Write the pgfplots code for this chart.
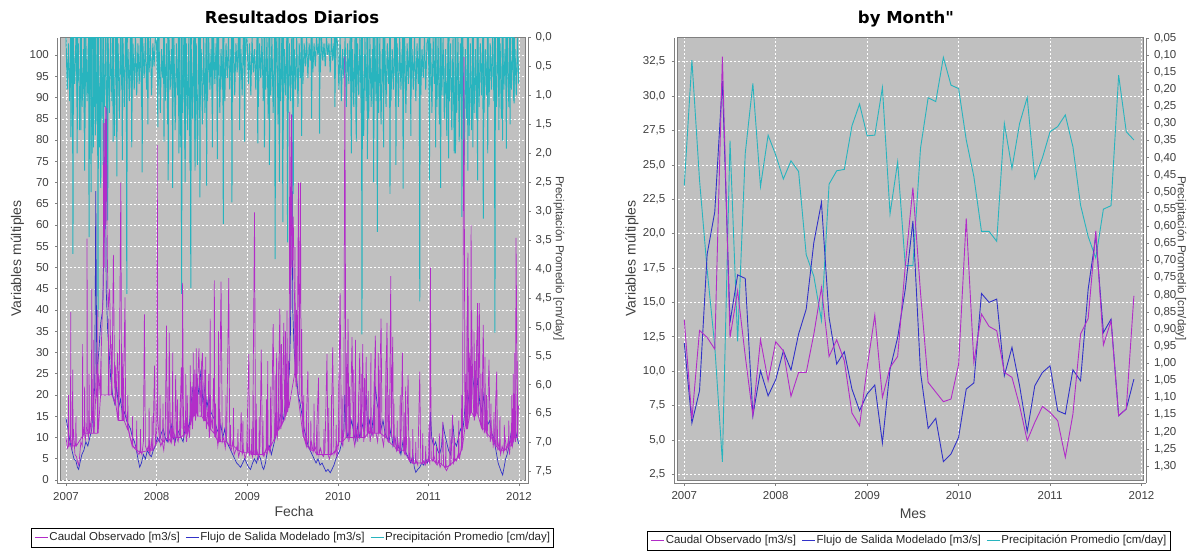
\documentclass[border=0pt]{standalone}
\usepackage{fontspec}
\setmainfont{Liberation Sans}
\newfontfamily\titlefont{DejaVu Sans}
\usepackage{pgfplots}
\pgfplotsset{compat=1.18}
\definecolor{plotbg}{RGB}{192,192,192}
\definecolor{axgray}{RGB}{128,128,128}
\definecolor{cmag}{RGB}{178,45,200}
\definecolor{cblue}{RGB}{50,50,200}
\definecolor{ccyan}{RGB}{40,180,190}
\newcommand{\tickfont}{\fontsize{11.5}{13}\selectfont}
\newcommand{\labfont}{\fontsize{14}{16}\selectfont}
\newcommand{\rlabfont}{\fontsize{11.5}{13}\selectfont}
\newcommand{\legfont}{\fontsize{11.5}{13}\selectfont}
\newcommand{\ttlfont}{\titlefont\fontsize{16.5}{19}\selectfont\bfseries}
\newcommand{\lgline}[1]{\textcolor{#1}{\rule[3.5pt]{13pt}{0.9pt}}\hspace{1.5pt}}
\newcommand{\legtext}{\lgline{cmag}Caudal Observado [m3/s]\hspace{6pt}\lgline{cblue}Flujo de Salida Modelado [m3/s]\hspace{6pt}\lgline{ccyan}Precipitación Promedio [cm/day]}
\pgfplotsset{
  common/.style={
    scale only axis,
    /pgf/number format/assume math mode=true,
    tick label style={font=\tickfont, text=black!75},
    tick align=outside,
    major tick length=2.5pt,
    tick style={draw=axgray, line width=0.6pt},
    axis line style={draw=axgray, line width=0.8pt},
    every outer x axis line/.append style={-},
    every outer y axis line/.append style={-},
    scaled ticks=false,
  },
  gridax/.style={common,
    axis x line*=bottom, axis y line*=left,
    grid=major,
    major grid style={draw=white, line width=0.5pt, dash pattern=on 2pt off 2pt},
    yticklabel style={inner sep=0pt, xshift=-6pt},
    xticklabel style={inner sep=0pt, yshift=-6pt},
  },
  rightax/.style={common,
    axis x line=none, xtick=\empty, axis y line*=right, y dir=reverse,
    yticklabel style={inner sep=0pt, xshift=5pt},
  },
  flowax/.style={scale only axis, hide axis},
  Lbox/.style={at={(57.5pt,-483.5pt)}, anchor=south west, width=470.5pt, height=446pt, xmin=-34.3, xmax=1862.3},
  Rbox/.style={at={(674pt,-483pt)}, anchor=south west, width=472.3pt, height=445.3pt, xmin=-1.35, xmax=60.63},
}
\begin{document}
\begin{tikzpicture}
\path[use as bounding box] (0pt,0pt) rectangle (1192pt,-550pt);
\filldraw[fill=plotbg, draw=axgray, line width=0.5pt] (60.5pt,-37.5pt) rectangle (525pt,-480.5pt);
\filldraw[fill=plotbg, draw=axgray, line width=0.5pt] (677pt,-37.7pt) rectangle (1143.3pt,-480pt);

% ================= LEFT PANEL =================
\begin{axis}[gridax, Lbox, ymin=-0.82, ymax=104.12,
  xtick={0,365,731,1096,1461,1826}, xticklabels={2007,2008,2009,2010,2011,2012},
  ytick={0,5,...,100}]
\addplot[draw=none, forget plot] coordinates {(0,0)};
\end{axis}

\begin{axis}[rightax, Lbox, ymin=0, ymax=7.706,
  ytick={0,0.5,1,1.5,2,2.5,3,3.5,4,4.5,5,5.5,6,6.5,7,7.5},
  y tick label style={/pgf/number format/fixed, /pgf/number format/fixed zerofill, /pgf/number format/precision=1, /pgf/number format/use comma}]
\addplot[ccyan, line width=0.95pt] table[row sep=\\, x expr=\coordindex*5, y=p] {p\\
0\\0.9\\0.1\\1.1\\0\\1.3\\0.2\\0.8\\0\\1.0\\0.1\\1.6\\0\\1.2\\0.2\\1.8\\0\\1.1\\0.1\\1.4\\0\\2.0\\0.2\\1.2\\0\\1.5\\0.1\\1.9\\0\\1.4\\0.2\\1.2\\0\\1.6\\0.1\\1.3\\0\\1.1\\0.2\\1.7\\0\\1.0\\0.1\\1.4\\0\\0.9\\0.1\\1.2\\0\\0.8\\0.2\\1.1\\0\\1.3\\0.1\\0.9\\0\\1.0\\0.1\\0.8\\0\\1.2\\0.1\\0.7\\0\\0.9\\0.2\\0.6\\0\\1.0\\0.1\\0.5\\0\\
0.1\\1.0\\0\\1.3\\0.2\\0.7\\0\\1.1\\0.1\\1.5\\0\\0.9\\0.2\\1.2\\0\\1.6\\0.1\\1.0\\0\\1.9\\0.2\\1.3\\0\\2.1\\0.1\\1.6\\0\\2.3\\0.2\\1.4\\0\\1.8\\0.1\\2.2\\0\\1.2\\0.2\\1.5\\0\\1.3\\0.1\\1.1\\0\\0.9\\0.2\\1.2\\0\\0.8\\0.1\\1.0\\0\\1.3\\0.2\\0.9\\0\\1.1\\0.1\\0.7\\0\\0.9\\0.2\\0.8\\0\\1.0\\0.1\\0.6\\0\\0.8\\0.2\\1.0\\0\\0.7\\0.1\\
0\\0.8\\0.1\\1.0\\0\\0.6\\0.2\\0.9\\0\\1.2\\0.1\\0.7\\0\\1.1\\0.2\\0.9\\0\\1.4\\0.1\\1.0\\0\\1.3\\0.2\\0.6\\0\\1.5\\0.1\\1.1\\0\\1.6\\0.2\\1.0\\0\\1.3\\0.1\\1.1\\0\\1.4\\0.2\\0.9\\0\\1.2\\0.1\\0.7\\0\\0.8\\0.1\\0.5\\0\\0.7\\0.1\\0.4\\0\\0.6\\0.1\\0.5\\0\\0.3\\0.1\\0.6\\0\\0.4\\0.1\\0.5\\0\\0.3\\0.1\\0.6\\0\\0.4\\0.1\\0.7\\0\\
0.1\\0.9\\0\\1.1\\0.2\\0.7\\0\\1.2\\0.1\\0.8\\0\\1.4\\0.2\\1.2\\0\\1.5\\0.1\\1.0\\0\\1.3\\0.2\\1.7\\0\\1.1\\0.1\\1.4\\0\\1.2\\0.2\\1.6\\0\\1.1\\0.1\\1.3\\0\\1.5\\0.2\\1.0\\0\\1.2\\0.1\\0.8\\0\\1.1\\0.2\\0.9\\0\\1.0\\0.1\\1.2\\0\\0.9\\0.2\\1.1\\0\\1.3\\0.1\\0.8\\0\\1.0\\0.2\\0.9\\0\\1.1\\0.1\\0.8\\0\\1.0\\0.2\\0.7\\0\\0.9\\0.1\\
0\\1.1\\0.1\\1.3\\0\\0.8\\0.2\\1.2\\0\\1.5\\0.1\\1.0\\0\\1.4\\0.2\\1.7\\0\\1.1\\0.1\\1.6\\0\\2.0\\0.2\\1.3\\0\\1.8\\0.1\\1.5\\0\\2.2\\0.2\\1.4\\0\\1.7\\0.1\\1.6\\0\\1.3\\0.2\\1.4\\0\\1.2\\0.1\\1.0\\0\\1.3\\0.2\\1.0\\0\\1.2\\0.1\\0.9\\0\\1.1\\0.2\\1.2\\0\\1.0\\0.1\\1.4\\0\\0.9\\0.2\\1.1\\0\\1.2\\0.1\\0.9\\0\\1.1\\0.2\\1.0\\0\\0.8\\
};
\addplot[ccyan, line width=0.95pt] coordinates {(18,0)(20,1.72)(22,0)(26,0)(28,3.74)(30,0)(43,0)(45,2.0)(47,0)(58,0)(60,1.6)(62,0)(73,0)(75,2.3)(77,0)(91,0)(93,3.45)(95,0)(99,0)(101,2.67)(103,0)(108,0)(110,1.9)(112,0)(116,0)(118,1.69)(120,0)(127,0)(129,4.83)(131,0)(138,0)(140,2.6)(142,0)(148,0)(150,2.2)(152,0)(166,0)(168,3.16)(170,0)(188,0)(190,1.8)(192,0)(203,0)(205,2.4)(207,0)(225,0)(227,2.12)(229,0)(243,0)(245,4.43)(247,0)(263,0)(265,1.9)(267,0)(305,0)(307,2.33)(309,0)(328,0)(330,1.5)(332,0)(368,0)(370,1.55)(372,0)(393,0)(395,1.8)(397,0)(410,0)(412,2.47)(414,0)(428,0)(430,2.6)(432,0)(453,0)(455,2.0)(457,0)(464,0)(466,4.43)(468,0)(478,0)(480,2.5)(482,0)(501,0)(503,4.33)(505,0)(518,0)(520,2.3)(522,0)(538,0)(540,2.76)(542,0)(565,0)(567,2.56)(569,0)(588,0)(590,1.9)(592,0)(608,0)(610,2.1)(612,0)(632,0)(634,3.22)(636,0)(667,0)(669,2.85)(671,0)(698,0)(700,1.6)(702,0)(718,0)(720,1.8)(722,0)(771,0)(773,1.83)(775,0)(798,0)(800,1.9)(802,0)(818,0)(820,2.2)(822,0)(841,0)(843,3.83)(845,0)(858,0)(860,2.5)(862,0)(872,0)(874,3.19)(876,0)(891,0)(893,3.54)(895,0)(914,0)(916,2.7)(918,0)(948,0)(950,1.7)(952,0)(988,0)(990,1.4)(992,0)(1020,0)(1022,1.66)(1024,0)(1082,0)(1084,1.2)(1086,0)(1148,0)(1150,2.0)(1152,0)(1168,0)(1170,1.8)(1172,0)(1191,0)(1193,5.13)(1195,0)(1213,0)(1215,2.1)(1217,0)(1238,0)(1240,2.5)(1242,0)(1253,0)(1255,3.36)(1257,0)(1278,0)(1280,1.9)(1282,0)(1304,0)(1306,2.7)(1308,0)(1328,0)(1330,2.2)(1332,0)(1357,0)(1359,2.61)(1361,0)(1388,0)(1390,1.7)(1392,0)(1424,0)(1426,4.56)(1428,0)(1463,0)(1465,2.47)(1467,0)(1488,0)(1490,1.9)(1492,0)(1508,0)(1510,2.6)(1512,0)(1540,0)(1542,2.09)(1544,0)(1568,0)(1570,2.0)(1572,0)(1594,0)(1596,3.1)(1598,0)(1618,0)(1620,2.3)(1622,0)(1638,0)(1640,1.9)(1642,0)(1657,0)(1659,2.47)(1661,0)(1680,0)(1682,3.13)(1684,0)(1698,0)(1700,2.0)(1702,0)(1727,0)(1729,5.1)(1731,0)(1743,0)(1745,1.6)(1747,0)(1758,0)(1760,1.78)(1762,0)(1773,0)(1775,1.92)(1777,0)(1788,0)(1790,1.5)(1792,0)(1804,0)(1806,1.14)(1808,0)};
\end{axis}

\begin{axis}[flowax, Lbox, ymin=-0.82, ymax=104.12]
\addplot[cblue, line width=0.7pt] coordinates {(0,14.5)(8,12)(16,9)(24,7)(32,5)(40,4.5)(46,3)(51,2.5)(56,4)(64,6)(72,7)(80,9)(88,8)(96,10)(104,12)(110,18)(116,22)(120,68)(124,25)(132,30)(140,37)(148,40)(154,60)(158,85)(162,45)(168,35)(174,30)(180,24)(188,20)(196,18)(204,22)(212,17)(220,19)(228,15)(236,16)(244,14)(252,13)(260,12)(268,10)(276,9)(284,7)(290,5)(297,3)(304,4)(312,6)(320,5)(328,7)(336,6)(344,5.5)(352,7)(360,8)(368,10)(376,9)(384,11)(392,12)(400,10)(408,9)(416,11)(424,13)(432,10)(440,9)(448,12)(456,11)(464,10)(472,9)(480,12)(488,14)(496,12)(504,18)(512,22)(520,16)(528,24)(536,20)(544,26)(552,18)(560,22)(568,17)(576,20)(584,16)(592,15)(600,14)(608,12)(616,11)(624,13)(632,10)(640,12)(648,9)(656,8)(664,7)(672,6)(680,5)(688,4)(696,3.5)(704,3)(712,4)(720,5)(728,4)(736,3)(744,2.5)(752,4)(760,5)(768,4)(776,6)(784,5)(792,3)(797,2.5)(804,4)(812,7)(820,8)(828,6)(836,8)(844,10)(852,12)(860,14)(868,16)(876,14)(884,18)(892,22)(900,25)(905,35)(910,86)(914,40)(920,30)(928,25)(936,20)(944,18)(952,15)(960,12)(968,10)(976,8)(984,7)(992,6)(1000,5)(1008,4)(1016,5)(1024,3.5)(1032,4)(1040,3)(1048,2)(1056,2.5)(1065,1.7)(1072,2.5)(1080,3.5)(1088,5)(1096,6)(1104,7)(1112,9)(1120,11)(1124,20)(1128,13)(1136,10)(1144,12)(1152,14)(1160,11)(1168,9)(1176,13)(1184,10)(1192,12)(1200,14)(1210,20)(1216,12)(1224,14)(1232,11)(1240,16)(1247,22)(1254,18)(1262,16)(1270,12)(1278,14)(1286,11)(1294,10)(1302,9)(1310,12)(1318,8)(1326,10)(1334,7)(1342,8)(1350,6)(1358,9)(1366,7)(1374,6)(1382,5)(1390,4)(1398,6)(1404,3)(1410,1.8)(1418,2.5)(1426,3)(1434,4)(1442,3.5)(1450,5)(1458,4)(1464,6)(1469,16)(1474,10)(1482,8)(1490,9)(1498,7)(1506,6)(1514,8)(1520,13)(1526,11)(1534,9)(1542,7)(1550,6)(1556,10)(1560,13)(1566,9)(1574,8)(1582,10)(1590,12)(1598,11)(1604,14)(1612,20)(1620,18)(1628,22)(1636,26)(1644,22)(1652,19)(1660,24)(1668,18)(1676,16)(1684,20)(1692,15)(1700,13)(1708,14)(1716,11)(1724,10)(1730,8)(1736,6)(1742,4)(1748,3)(1754,2)(1760,1.2)(1766,3)(1772,5)(1778,6)(1786,8)(1794,11)(1802,9)(1810,12)(1818,10)(1825,8.5)};
\addplot[cmag, line width=0.7pt] coordinates {(0,10)(6,7.5)(12,8.2)(18,9)(19,39.5)(20,10)(24,7)(30,12)(36,6)(42,5.5)(48,4)(51,3.5)(54,5)(60,9)(66,8)(67,32)(68,10)(72,12)(78,9.5)(84,13)(85,56.8)(86,12)(90,10)(96,14)(102,11)(104,45)(106,14)(108,16)(114,12)(120,20)(121,30)(122,22)(126,18)(132,25)(138,20)(144,35)(150,45)(152,84)(154,50)(158,88)(160,60)(164,87.5)(166,55)(170,40)(176,45)(180,30)(186,25)(191,53)(196,22)(202,20)(208,30)(214,18)(221,70)(224,20)(230,17)(238,43)(240,16)(246,14)(252,12)(258,10)(264,9)(270,8)(276,7.5)(282,8)(288,6.5)(294,6)(300,7)(306,6)(312,9)(316,39)(320,8)(326,7)(332,8)(338,6)(344,9)(350,7)(357,26.9)(360,8)(366,12)(368,78.8)(370,14)(376,10)(382,8)(388,9)(394,7)(400,11)(405,36.3)(408,10)(414,9)(416,34.7)(420,11)(426,9)(432,12)(438,8)(442,24.7)(446,10)(452,9)(458,12)(465,26.5)(468,12)(470,46.4)(474,10)(480,14)(486,9)(492,13)(498,10)(504,18)(510,12)(516,22)(522,14)(528,20)(536,31)(540,16)(544,24)(550,30)(554,14)(560,20)(566,12)(572,17)(578,10)(584,15)(590,12)(595,24)(600,10)(606,12)(612,8)(618,11)(625,46.7)(630,9)(636,10)(642,7.5)(648,11)(656,47.5)(660,8)(666,7)(672,9)(678,6)(684,7)(690,8)(696,5.5)(702,7)(706,15.9)(710,6)(716,7)(722,5)(728,6.5)(737,29.6)(740,6)(746,7)(752,5.5)(760,63)(764,6)(770,7)(776,5)(782,8)(787,30.7)(792,6)(798,5.5)(804,7)(810,6)(816,8)(822,6.5)(828,10)(835,36.7)(840,9)(846,12)(852,10)(856,18)(862,40.3)(866,12)(872,15)(878,37)(882,14)(888,18)(894,16)(900,30)(902,86.6)(906,40)(909,86)(912,50)(916,62)(920,45)(926,35)(932,25)(937,70)(940,20)(945,70)(948,18)(950,35.5)(954,12)(960,10)(966,9)(975,25.7)(978,8)(984,7.5)(990,9)(996,6.5)(1002,8)(1008,7)(1018,24.1)(1020,6)(1026,7.5)(1032,6)(1038,5.5)(1044,7)(1052,29.6)(1056,6)(1062,5)(1068,6.5)(1075,31.2)(1080,6)(1086,7)(1092,5.5)(1098,8)(1105,44)(1110,9)(1116,8)(1120,12)(1124,99.6)(1128,12)(1132,10)(1137,37.9)(1140,9)(1146,11)(1153,33.6)(1158,10)(1164,8)(1170,12)(1176,9)(1184,30)(1188,10)(1192,12)(1196,32)(1200,9)(1206,13)(1210,29)(1214,10)(1220,14)(1226,9)(1232,12)(1238,10)(1247,34)(1250,11)(1256,9)(1262,13)(1270,38)(1274,10)(1280,8)(1286,12)(1294,37)(1298,9)(1304,11)(1309,48)(1312,10)(1317,33.7)(1320,8)(1326,10)(1332,7)(1338,9)(1344,6.5)(1350,8)(1356,30)(1360,7)(1366,6)(1372,8)(1379,24.7)(1382,5)(1388,4.5)(1394,5)(1400,4)(1406,3.8)(1412,4.5)(1418,3.5)(1426,25.5)(1430,4)(1436,3.8)(1442,4.5)(1448,3.5)(1454,4.5)(1460,5)(1466,4)(1469,50)(1472,5)(1478,4.5)(1484,5.5)(1490,4)(1496,3.5)(1502,4.5)(1508,3)(1514,4)(1519,13.7)(1522,3.5)(1528,2.8)(1534,2.2)(1540,3)(1546,3.5)(1552,4)(1558,15.3)(1562,4)(1568,5)(1574,4.5)(1580,6)(1586,5)(1592,7)(1598,10)(1604,99.5)(1608,15)(1614,12)(1620,53.5)(1624,14)(1630,18)(1635,40)(1640,20)(1646,14)(1652,18)(1659,41.6)(1662,15)(1666,41.6)(1670,14)(1676,12)(1682,36.5)(1686,11)(1692,14)(1698,10)(1705,28.3)(1710,9)(1716,12)(1722,8)(1728,10)(1736,25.5)(1740,7)(1746,9)(1752,6)(1758,8)(1764,6.5)(1770,10)(1776,7)(1782,9)(1788,6)(1794,11)(1800,8)(1806,12)(1812,9)(1814,57)(1817,35)(1820,10)(1824,17.5)};
\addplot[cmag, line width=0.7pt] coordinates {(8.5,8)(10,20)(11.5,8)(25.5,8)(27,26)(28.5,8)(38.5,8)(40,15)(41.5,8)(73.5,11)(75,22)(76.5,11)(91.5,11)(93,25)(94.5,11)(110.5,11)(112,33)(113.5,11)(126.5,11)(128,40)(129.5,11)(139.5,20)(141,28)(142.5,20)(170.5,20)(172,38)(173.5,20)(182.5,20)(184,32)(185.5,20)(197.5,18)(199,27)(200.5,18)(209.5,14)(211,25)(212.5,14)(225.5,14)(227,30)(228.5,14)(231.5,14)(233,22)(234.5,14)(247.5,12)(249,20)(250.5,12)(266.5,8)(268,15)(269.5,8)(283.5,7)(285,14)(286.5,7)(298.5,6.5)(300,12)(301.5,6.5)(333.5,7)(335,17)(336.5,7)(345.5,7)(347,15)(348.5,7)(377.5,10)(379,20)(380.5,10)(389.5,9)(391,18)(392.5,9)(409.5,10)(411,22)(412.5,10)(421.5,9)(423,16)(424.5,9)(428.5,10)(430,30)(431.5,10)(447.5,10)(449,19)(450.5,10)(459.5,10)(461,17)(462.5,10)(481.5,11)(483,25)(484.5,11)(487.5,11)(489,20)(490.5,11)(499.5,13)(501,27)(502.5,13)(505.5,14)(507,22)(508.5,14)(511.5,15)(513,30)(514.5,15)(517.5,15)(519,26)(520.5,15)(523.5,16)(525,31)(526.5,16)(529.5,15)(531,24)(532.5,15)(545.5,15)(547,28)(548.5,15)(555.5,14)(557,26)(558.5,14)(561.5,14)(563,29)(564.5,14)(573.5,13)(575,25)(576.5,13)(579.5,12)(581,38)(582.5,12)(596.5,11)(598,47)(599.5,11)(601.5,10)(603,18)(604.5,10)(613.5,9)(615,35)(616.5,9)(619.5,9)(621,16)(622.5,9)(643.5,9)(645,20)(646.5,9)(661.5,8)(663,13)(664.5,8)(673.5,8)(675,17)(676.5,8)(691.5,7)(693,12)(694.5,7)(711.5,6.5)(713,14)(714.5,6.5)(731.5,6.5)(733,13)(734.5,6.5)(747.5,6)(749,12)(750.5,6)(755.5,6)(757,20)(758.5,6)(765.5,6)(767,18)(768.5,6)(777.5,6)(779,15)(780.5,6)(792.5,6)(794,14)(795.5,6)(806.5,7)(808,19)(809.5,7)(811.5,7)(813,28)(814.5,7)(823.5,8)(825,22)(826.5,8)(841.5,10)(843,25)(844.5,10)(847.5,11)(849,30)(850.5,11)(856.5,12)(858,28)(859.5,12)(867.5,13)(869,32)(870.5,13)(883.5,15)(885,35)(886.5,15)(889.5,16)(891,40)(892.5,16)(895.5,17)(897,28)(898.5,17)(921.5,25)(923,55)(924.5,25)(927.5,22)(929,40)(930.5,22)(956.5,10)(958,20)(959.5,10)(968.5,8)(970,15)(971.5,8)(985.5,7)(987,14)(988.5,7)(998.5,7)(1000,18)(1001.5,7)(1010.5,6)(1012,13)(1013.5,6)(1038.5,6)(1040,12)(1041.5,6)(1057.5,6)(1059,17)(1060.5,6)(1068.5,6)(1070,20)(1071.5,6)(1087.5,7)(1089,13)(1090.5,7)(1098.5,9)(1100,25)(1101.5,9)(1111.5,9)(1113,20)(1114.5,9)(1128.5,10)(1130,30)(1131.5,10)(1141.5,10)(1143,22)(1144.5,10)(1158.5,10)(1160,26)(1161.5,10)(1165.5,10)(1167,33)(1168.5,10)(1178.5,10)(1180,20)(1181.5,10)(1188.5,10)(1190,25)(1191.5,10)(1201.5,10)(1203,24)(1204.5,10)(1216.5,11)(1218,21)(1219.5,11)(1227.5,11)(1229,30)(1230.5,11)(1241.5,11)(1243,24)(1244.5,11)(1257.5,11)(1259,30)(1260.5,11)(1264.5,11)(1266,26)(1267.5,11)(1288.5,10)(1290,28)(1291.5,10)(1299.5,9)(1301,20)(1302.5,9)(1320.5,8)(1322,18)(1323.5,8)(1333.5,7)(1335,14)(1336.5,7)(1345.5,7)(1347,20)(1348.5,7)(1361.5,7)(1363,16)(1364.5,7)(1367.5,6)(1369,22)(1370.5,6)(1384.5,4.5)(1386,10)(1387.5,4.5)(1396.5,4)(1398,12)(1399.5,4)(1408.5,4)(1410,9)(1411.5,4)(1436.5,4)(1438,11)(1439.5,4)(1448.5,4)(1450,8)(1451.5,4)(1461.5,4.5)(1463,13)(1464.5,4.5)(1479.5,4.5)(1481,10)(1482.5,4.5)(1491.5,4)(1493,8)(1494.5,4)(1503.5,4)(1505,11)(1506.5,4)(1529.5,3)(1531,9)(1532.5,3)(1546.5,3.5)(1548,12)(1549.5,3.5)(1564.5,4.5)(1566,10)(1567.5,4.5)(1581.5,5.5)(1583,14)(1584.5,5.5)(1593.5,7)(1595,20)(1596.5,7)(1609.5,13)(1611,25)(1612.5,13)(1615.5,12)(1617,40)(1618.5,12)(1625.5,15)(1627,30)(1628.5,15)(1631.5,16)(1633,60)(1634.5,16)(1643.5,15)(1645,35)(1646.5,15)(1648.5,15)(1650,28)(1651.5,15)(1654.5,16)(1656,33)(1657.5,16)(1671.5,13)(1673,25)(1674.5,13)(1678.5,12)(1680,22)(1681.5,12)(1687.5,12)(1689,29)(1690.5,12)(1693.5,11)(1695,20)(1696.5,11)(1711.5,10)(1713,18)(1714.5,10)(1723.5,9)(1725,16)(1726.5,9)(1731.5,8)(1733,20)(1734.5,8)(1747.5,7)(1749,15)(1750.5,7)(1765.5,7)(1767,13)(1768.5,7)(1783.5,8)(1785,14)(1786.5,8)(1795.5,8)(1797,20)(1798.5,8)(1801.5,9)(1803,25)(1804.5,9)(1807.5,10)(1809,30)(1810.5,10)(1817.5,10)(1819,28)(1820.5,10)};
\end{axis}

% ================= RIGHT PANEL =================
\begin{axis}[gridax, Rbox, ymin=1.867, ymax=34.245,
  xtick={0,12,24,36,48,60}, xticklabels={2007,2008,2009,2010,2011,2012},
  ytick={2.5,5,7.5,10,12.5,15,17.5,20,22.5,25,27.5,30,32.5},
  y tick label style={/pgf/number format/fixed, /pgf/number format/fixed zerofill, /pgf/number format/precision=1, /pgf/number format/use comma}]
\addplot[draw=none, forget plot] coordinates {(0,10)};
\end{axis}

\begin{axis}[rightax, Rbox, ymin=0.0495, ymax=1.3496,
  ytick={0.05,0.1,0.15,0.2,0.25,0.3,0.35,0.4,0.45,0.5,0.55,0.6,0.65,0.7,0.75,0.8,0.85,0.9,0.95,1.0,1.05,1.1,1.15,1.2,1.25,1.3},
  y tick label style={/pgf/number format/fixed, /pgf/number format/fixed zerofill, /pgf/number format/precision=2, /pgf/number format/use comma}]
\addplot[ccyan, line width=0.9pt] coordinates {(0,0.481)(1,0.115)(2,0.465)(3,0.727)(4,0.95)(5,1.288)(6,0.35)(7,0.936)(8,0.387)(9,0.183)(10,0.484)(11,0.334)(12,0.392)(13,0.462)(14,0.409)(15,0.44)(16,0.683)(17,0.746)(18,0.875)(19,0.477)(20,0.438)(21,0.434)(22,0.307)(23,0.243)(24,0.336)(25,0.334)(26,0.195)(27,0.564)(28,0.412)(29,0.715)(30,0.715)(31,0.372)(32,0.225)(33,0.236)(34,0.107)(35,0.188)(36,0.198)(37,0.348)(38,0.455)(39,0.615)(40,0.615)(41,0.644)(42,0.30)(43,0.431)(44,0.30)(45,0.224)(46,0.46)(47,0.40)(48,0.324)(49,0.309)(50,0.275)(51,0.368)(52,0.538)(53,0.63)(54,0.693)(55,0.55)(56,0.54)(57,0.159)(58,0.324)(59,0.348)};
\end{axis}

\begin{axis}[flowax, Rbox, ymin=1.867, ymax=34.245]
\addplot[cblue, line width=0.9pt] coordinates {(0,12.04)(1,6.23)(2,8.58)(3,18.5)(4,21.58)(5,31.1)(6,13.54)(7,17.0)(8,16.74)(9,6.76)(10,10.03)(11,8.21)(12,9.38)(13,11.48)(14,10.08)(15,12.7)(16,14.51)(17,19.35)(18,22.26)(19,13.9)(20,10.52)(21,11.41)(22,8.7)(23,7.13)(24,8.34)(25,8.99)(26,4.78)(27,10.15)(28,12.45)(29,15.96)(30,20.92)(31,9.91)(32,5.84)(33,6.57)(34,3.42)(35,3.98)(36,5.19)(37,8.7)(38,9.14)(39,15.65)(40,15.0)(41,15.24)(42,9.67)(43,11.73)(44,8.94)(45,5.6)(46,8.94)(47,9.91)(48,10.39)(49,7.12)(50,6.88)(51,10.1)(52,9.3)(53,15.96)(54,19.83)(55,12.81)(56,13.78)(57,6.76)(58,7.25)(59,9.42)};
\addplot[cmag, line width=0.9pt] coordinates {(0,13.73)(1,6.52)(2,12.96)(3,12.45)(4,11.6)(5,32.86)(6,12.45)(7,15.84)(8,11.1)(9,6.76)(10,12.28)(11,9.3)(12,12.14)(13,11.48)(14,8.17)(15,9.9)(16,9.9)(17,12.69)(18,16.08)(19,11.07)(20,12.28)(21,10.76)(22,6.96)(23,6.03)(24,10.27)(25,14.07)(26,8.09)(27,10.27)(28,11.07)(29,17.66)(30,23.35)(31,15.7)(32,9.18)(33,8.48)(34,7.78)(35,7.97)(36,10.5)(37,21.1)(38,10.64)(39,14.15)(40,13.25)(41,12.94)(42,9.91)(43,9.55)(44,7.49)(45,4.95)(46,6.28)(47,7.44)(48,7.0)(49,6.4)(50,3.74)(51,6.88)(52,12.69)(53,13.83)(54,20.2)(55,11.9)(56,13.66)(57,6.76)(58,7.25)(59,15.48)};
\end{axis}

% ================= LEGENDS =================
\node[draw=black, line width=0.9pt, fill=white, inner xsep=3.7pt, inner ysep=4pt, font=\legfont, text=black!85, anchor=north] at (292.5pt,-528pt) {\legtext};
\node[draw=black, line width=0.9pt, fill=white, inner xsep=3.7pt, inner ysep=4pt, font=\legfont, text=black!85, anchor=north] at (908.8pt,-531pt) {\legtext};

% ================= TEXT =================
\node[font=\ttlfont] at (292pt,-17.5pt) {Resultados Diarios};
\node[font=\ttlfont] at (906pt,-19pt) {by Month"};
\node[font=\labfont, text=black!75, rotate=90] at (17.3pt,-258.5pt) {Variables múltiples};
\node[font=\labfont, text=black!75, rotate=90] at (632pt,-258.5pt) {Variables múltiples};
\node[font=\labfont, text=black!75] at (294pt,-511pt) {Fecha};
\node[font=\labfont, text=black!75] at (913pt,-514pt) {Mes};
\node[font=\rlabfont, text=black!75, rotate=-90] at (559pt,-258.5pt) {Precipitación Promedio [cm/day]};
\node[font=\rlabfont, text=black!75, rotate=-90] at (1181pt,-258.5pt) {Precipitación Promedio [cm/day]};
\end{tikzpicture}
\end{document}
